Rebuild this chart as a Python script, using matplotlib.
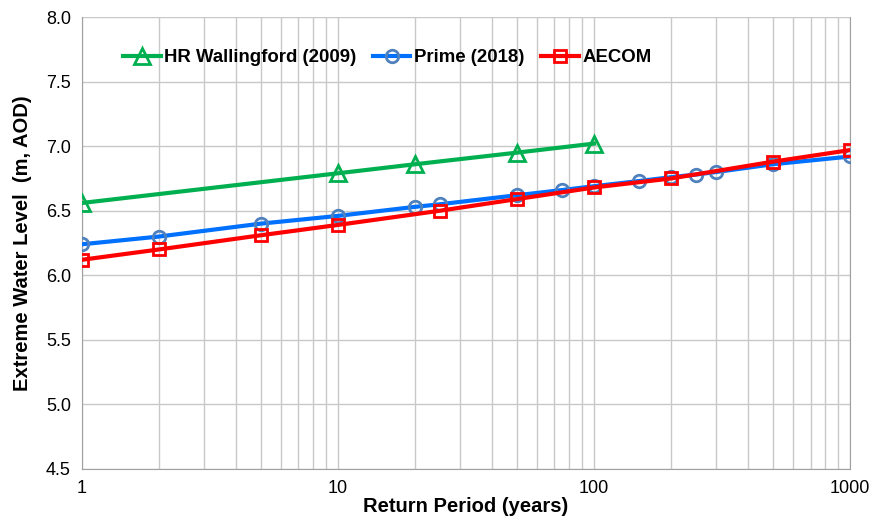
import matplotlib
matplotlib.use('Agg')
import matplotlib.pyplot as plt
from matplotlib.ticker import FixedLocator, LogLocator, NullFormatter

plt.rcParams['font.family'] = ['Liberation Sans', 'DejaVu Sans']

# Return periods (years) and extreme water levels (m AOD)
hr_rp = [1, 10, 20, 50, 100]
hr_wl = [6.56, 6.79, 6.86, 6.95, 7.02]

prime_rp = [1, 2, 5, 10, 20, 25, 50, 75, 100, 150, 200, 250, 300, 500, 1000]
prime_wl = [6.24, 6.30, 6.40, 6.46, 6.53, 6.55, 6.62, 6.66, 6.69, 6.73, 6.76, 6.78, 6.80, 6.86, 6.92]

aecom_rp = [1, 2, 5, 10, 25, 50, 100, 200, 500, 1000]
aecom_wl = [6.12, 6.20, 6.31, 6.39, 6.50, 6.59, 6.68, 6.75, 6.88, 6.97]

fig = plt.figure(figsize=(8.72, 5.17), dpi=100)
ax = fig.add_axes([0.094, 0.093, 0.881, 0.874])

ax.plot(hr_rp, hr_wl, color='#00b050', lw=3, marker='^', ms=11, mfc='none',
        mec='#00b050', mew=2, label='HR Wallingford (2009)', zorder=3)
ax.plot(prime_rp, prime_wl, color='#0070ff', lw=3, marker='o', ms=9, mfc='none',
        mec='#4f81bd', mew=2, label='Prime (2018)', zorder=3)
ax.plot(aecom_rp, aecom_wl, color='#ff0000', lw=3, marker='s', ms=8, mfc='none',
        mec='#ff0000', mew=2, label='AECOM', zorder=4)

ax.set_xscale('log')
ax.set_xlim(1, 1000)
ax.set_ylim(4.5, 8.0)
ax.set_yticks([4.5, 5.0, 5.5, 6.0, 6.5, 7.0, 7.5, 8.0])
ax.set_yticklabels(['%.1f' % v for v in ax.get_yticks()])
ax.xaxis.set_major_locator(FixedLocator([1, 10, 100, 1000]))
ax.set_xticklabels(['1', '10', '100', '1000'])
ax.xaxis.set_minor_locator(LogLocator(base=10, subs=range(2, 10)))
ax.xaxis.set_minor_formatter(NullFormatter())

ax.grid(True, which='both', axis='x', color='#c8c8c8', lw=1)
ax.grid(True, which='major', axis='y', color='#c8c8c8', lw=1)
ax.tick_params(axis='both', which='both', length=0, labelsize=13, pad=8)

ax.spines['top'].set_visible(False)
for s in ['left', 'bottom', 'right']:
    ax.spines[s].set_color('#a0a0a0')

ax.set_xlabel('Return Period (years)', fontsize=14.5, fontweight='bold', labelpad=0)
ax.set_ylabel('Extreme Water Level  (m, AOD)', fontsize=14.5, fontweight='bold', labelpad=10)

ax.legend(loc='center left', bbox_to_anchor=(0.032, 0.91), ncol=3, frameon=False,
          handlelength=2.0, columnspacing=0.9, handletextpad=0.2,
          prop={'weight': 'bold', 'size': 13.4})

fig.savefig('out.png', dpi=100)
